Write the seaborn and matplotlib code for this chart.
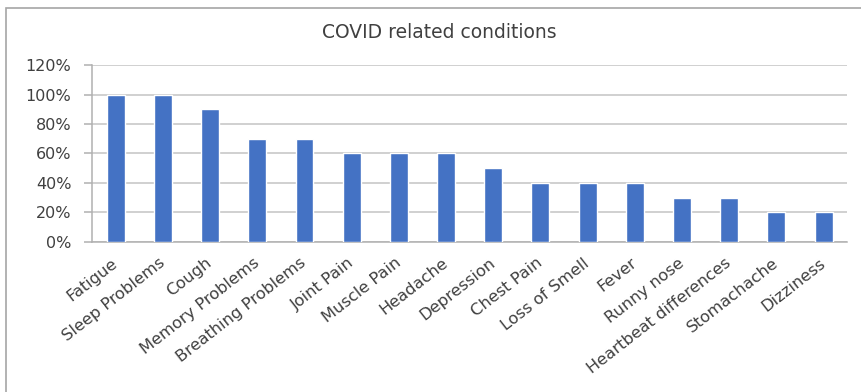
import matplotlib
matplotlib.use("Agg")
import matplotlib.pyplot as plt
import seaborn as sns
import pandas as pd
from matplotlib.patches import Rectangle
from matplotlib.ticker import PercentFormatter

conditions = ["Fatigue", "Sleep Problems", "Cough", "Memory Problems",
              "Breathing Problems", "Joint Pain", "Muscle Pain", "Headache",
              "Depression", "Chest Pain", "Loss of Smell", "Fever",
              "Runny nose", "Heartbeat differences", "Stomachache", "Dizziness"]
shares = [100, 100, 90, 70, 70, 60, 60, 60, 50, 40, 40, 40, 30, 30, 20, 20]
y_ticks = [0, 20, 40, 60, 80, 100, 120]

sns.set_theme(style="white")
plt.rcParams["font.family"] = ["DejaVu Sans"]

df = pd.DataFrame({"condition": conditions, "share": shares})

fig = plt.figure(figsize=(8.61, 3.92), dpi=100)
ax = fig.add_axes([0.107, 0.383, 0.877, 0.451])

sns.barplot(data=df, x="condition", y="share", color="#4472C4",
            saturation=1, width=0.38, ax=ax, zorder=3)

ax.set_ylim(0, 120)
ax.set_yticks(y_ticks)
ax.yaxis.set_major_formatter(PercentFormatter(decimals=0))
ax.set_xlim(-0.5, len(conditions) - 0.5)
ax.grid(axis="y", color="#c4c4c4", linewidth=1.1, zorder=0)
ax.set_axisbelow(True)
for side in ["top", "right"]:
    ax.spines[side].set_visible(False)
for side in ["bottom", "left"]:
    ax.spines[side].set_color("#b0b0b0")
    ax.spines[side].set_linewidth(1.1)
ax.set_xlabel("")
ax.set_ylabel("")
ax.tick_params(axis="y", labelsize=11.5, colors="#404040", pad=9, length=6,
               width=1.1, color="#b0b0b0", direction="out", left=True)
ax.tick_params(axis="x", labelsize=11.7, colors="#404040", pad=14, length=0)
plt.setp(ax.get_xticklabels(), rotation=38, ha="right", va="center",
         rotation_mode="anchor")

fig.text(0.51, 0.918, "COVID related conditions", ha="center", va="center",
         fontsize=13.5, color="#404040")

fig.patches.append(Rectangle((0.007, -0.01), 1.0, 0.99, transform=fig.transFigure,
                             fill=False, edgecolor="#a6a6a6", linewidth=1.2))

fig.savefig("out.png", dpi=100)
